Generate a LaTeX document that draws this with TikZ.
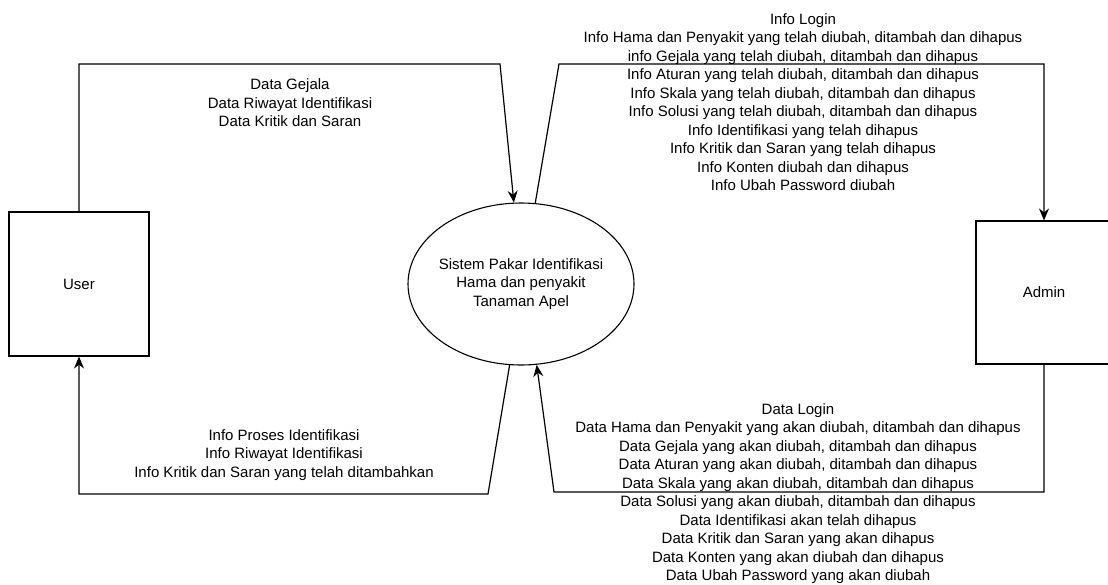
\documentclass[tikz,border=0pt]{standalone}
\usepackage{fontspec}
\setmainfont{Liberation Sans}
\usetikzlibrary{arrows.meta, shapes.geometric}

\begin{document}
\begin{tikzpicture}[
    x=1pt, y=-1pt,
    font=\fontsize{15}{18.5}\selectfont,
    entity/.style={rectangle, align=center, draw=black, line width=1.1pt, minimum width=140pt, minimum height=144pt},
    process/.style={ellipse, draw=black, line width=1.1pt, minimum width=226pt, minimum height=162pt},
    flow_label/.style={align=center, inner sep=0pt},
    flow/.style={draw=black, line width=1.2pt, -{Stealth[length=12pt, width=10pt, inset=4pt]}},
]
    \useasboundingbox (0, 0) rectangle (1108, 584);
    \clip (0, 0) rectangle (1108, 584);

    \node(user)[entity] at (79, 284) {User};
    \node(admin)[entity, minimum width=136pt, minimum height=143pt] at (1044, 292.5) {Admin};
    \node(sistem)[process] at (521, 284) {};
    \node(sistem_label)[flow_label] at (sistem) {Sistem Pakar Identifikasi\\ Hama dan penyakit\\ Tanaman Apel};

    % bends of the flows
    \coordinate(c_user_in) at (500, 64);
    \coordinate(c_admin_out) at (559, 64);
    \coordinate(c_admin_in) at (554, 492);
    \coordinate(c_user_out) at (488, 494);

    \draw[flow] (user.north) |- (c_user_in) -- (sistem.95);
    \draw[flow] (sistem.80) -- (c_admin_out) -| (admin.north);
    \draw[flow] (admin.south) |- (c_admin_in) -- (sistem.281);
    \draw[flow] (sistem.262) -- (c_user_out) -| (user.south);

    \node(user_in_label)[flow_label] at (290, 103) {Data Gejala\\ Data Riwayat Identifikasi\\ Data Kritik dan Saran};
    \node(user_out_label)[flow_label] at (284, 455) {Info Proses Identifikasi\\ Info Riwayat Identifikasi\\ Info Kritik dan Saran yang telah ditambahkan};
    \node(admin_out_label)[flow_label] at (803, 102) {Info Login\\
        Info Hama dan Penyakit yang telah diubah, ditambah dan dihapus\\
        info Gejala yang telah diubah, ditambah dan dihapus\\
        Info Aturan yang telah diubah, ditambah dan dihapus\\
        Info Skala yang telah diubah, ditambah dan dihapus\\
        Info Solusi yang telah diubah, ditambah dan dihapus\\
        Info Identifikasi yang telah dihapus\\
        Info Kritik dan Saran yang telah dihapus\\
        Info Konten diubah dan dihapus\\
        Info Ubah Password diubah};
    \node(admin_in_label)[flow_label] at (798, 493.5) {Data Login\\
        Data Hama dan Penyakit yang akan diubah, ditambah dan dihapus\\
        Data Gejala yang akan diubah, ditambah dan dihapus\\
        Data Aturan yang akan diubah, ditambah dan dihapus\\
        Data Skala yang akan diubah, ditambah dan dihapus\\
        Data Solusi yang akan diubah, ditambah dan dihapus\\
        Data Identifikasi akan telah dihapus\\
        Data Kritik dan Saran yang akan dihapus\\
        Data Konten yang akan diubah dan dihapus\\
        Data Ubah Password yang akan diubah};
\end{tikzpicture}
\end{document}
